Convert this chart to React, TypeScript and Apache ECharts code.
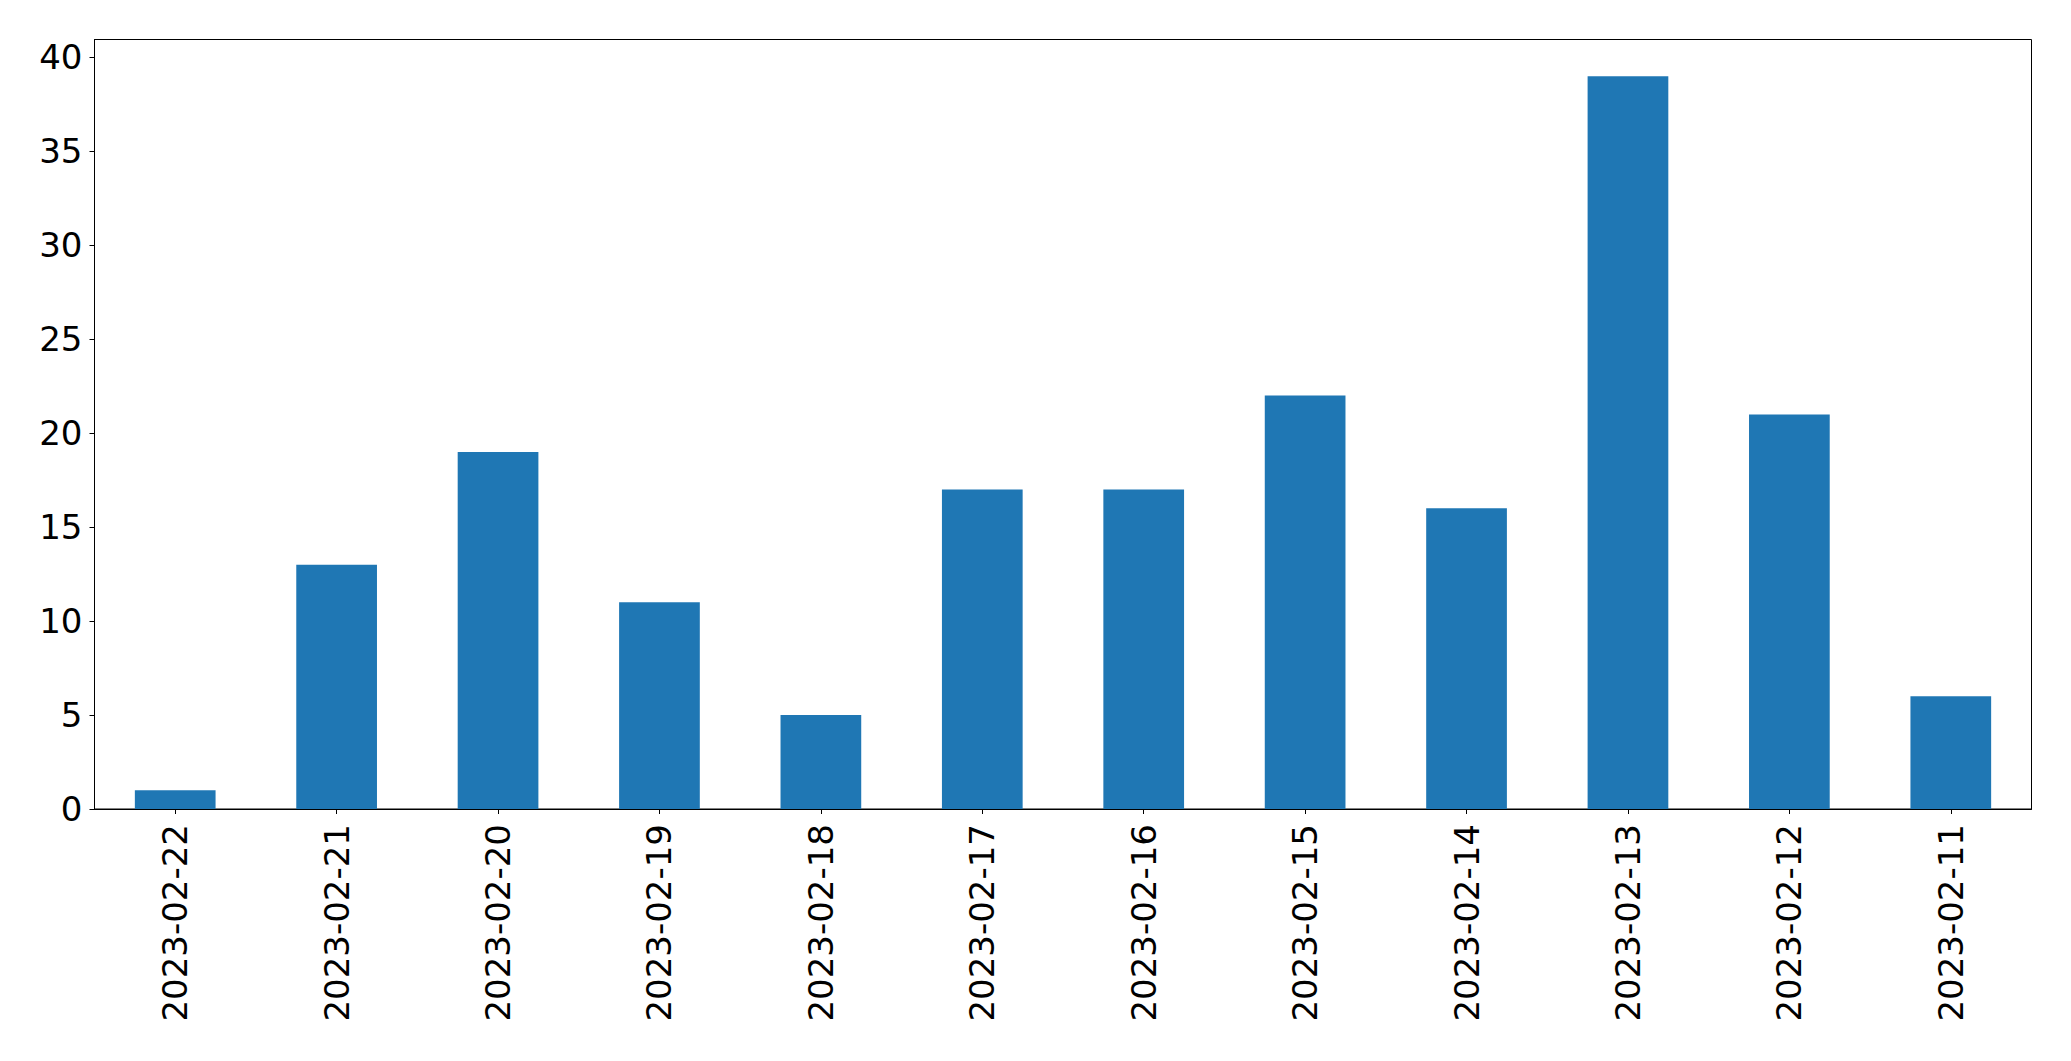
import React, { useEffect, useRef } from "react";
import * as echarts from "echarts";

const categories = [
  "2023-02-22", "2023-02-21", "2023-02-20", "2023-02-19", "2023-02-18", "2023-02-17",
  "2023-02-16", "2023-02-15", "2023-02-14", "2023-02-13", "2023-02-12", "2023-02-11",
];
const values = [1, 13, 19, 11, 5, 17, 17, 22, 16, 39, 21, 6];
const yTicks = [0, 5, 10, 15, 20, 25, 30, 35, 40];
const yMax = 40.95;

export default function App() {
  const ref = useRef<HTMLDivElement>(null);
  useEffect(() => {
    if (!ref.current) return;
    const chart = echarts.init(ref.current, undefined, { renderer: "svg" });
    const font = "DejaVu Sans";
    chart.setOption({
      animation: false,
      backgroundColor: "#ffffff",
      grid: {
        left: 94.5, top: 39.5, right: 39.5, bottom: 252,
        show: true, borderColor: "#000000", borderWidth: 1, backgroundColor: "transparent",
        containLabel: false,
      },
      xAxis: {
        type: "category",
        data: categories,
        boundaryGap: true,
        axisLine: { show: true, lineStyle: { color: "#000", width: 1 } },
        axisTick: { show: true, alignWithLabel: true, length: 5, lineStyle: { color: "#000" } },
        axisLabel: {
          interval: 0, rotate: 90, margin: 15, color: "#000",
          fontFamily: font, fontSize: 34,
        },
        splitLine: { show: false },
      },
      yAxis: {
        type: "value",
        min: 0,
        max: yMax,
        axisLine: { show: true, lineStyle: { color: "#000", width: 1 } },
        axisTick: { show: true, length: 5, lineStyle: { color: "#000" }, customValues: yTicks },
        axisLabel: {
          color: "#000", fontFamily: font, fontSize: 34, margin: 12,
          customValues: yTicks,
        },
        splitLine: { show: false },
      },
      series: [
        {
          type: "bar",
          data: values,
          barWidth: "50%",
          itemStyle: { color: "#1f77b4" },
        },
      ],
    });
    return () => chart.dispose();
  }, []);
  return (
    <div
      ref={ref}
      style={{ position: "fixed", left: 0, top: 0, width: 2071, height: 1061, background: "#fff" }}
    />
  );
}
